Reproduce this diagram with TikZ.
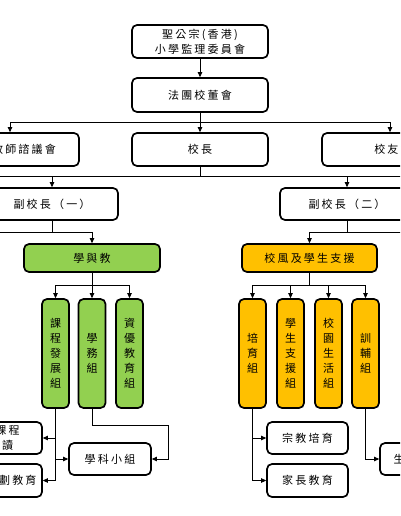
\documentclass[tikz,border=0pt]{standalone}
\usepackage{fontspec}
\setmainfont{Noto Sans CJK TC}[LetterSpace=20]
\usetikzlibrary{arrows.meta}
\definecolor{lgreen}{RGB}{146,208,80}
\definecolor{lorange}{RGB}{255,192,0}
\tikzset{
  box/.style={draw=black, line width=1.7pt, rounded corners=5pt, fill=white,
    inner sep=0pt, align=center, font=\fontsize{11}{15}\selectfont},
  gbox/.style={box, fill=lgreen},
  obox/.style={box, fill=lorange},
  tallbox/.style={minimum width=27pt, minimum height=109pt},
  conn/.style={line width=0.9pt},
  arr/.style={conn, -{Triangle[length=5pt,width=4.5pt]}},
}
\begin{document}
\begin{tikzpicture}[x=1pt,y=-1pt]
\useasboundingbox (0,0) rectangle (400,516);
\clip (0,0) rectangle (400,516);
% top rows
\node[box, minimum width=136pt, minimum height=33pt] (sk) at (200,41.5) {聖公宗(香港)\\小學監理委員會};
\node[box, minimum width=136pt, minimum height=34pt] (ft) at (200,95) {法團校董會};
\node[box, minimum width=110pt, minimum height=33pt] (tc) at (24,149.5) {教師諮議會};
\node[box, minimum width=136pt, minimum height=33pt] (zx) at (200,149.5) {校長};
\node[box, minimum width=142pt, minimum height=33pt] (xy) at (393,149.5) {校友會};
\node[box, minimum width=132pt, minimum height=32pt] (fx1) at (52,204) {副校長（一）};
\node[box, minimum width=134pt, minimum height=32pt] (fx2) at (347,204) {副校長（二）};
\node[gbox, minimum width=136pt, minimum height=28pt] (xyj) at (92,258) {學與教};
\node[obox, minimum width=135pt, minimum height=28pt] (xf) at (309.5,258) {校風及學生支援};
% tall boxes
\node[gbox, tallbox] (kc) at (55.5,353.5) {課\\程\\發\\展\\組};
\node[gbox, tallbox] (xw) at (92,353.5) {學\\務\\組};
\node[gbox, tallbox] (zy) at (129.5,353.5) {資\\優\\教\\育\\組};
\node[obox, tallbox] (py) at (252.5,353.5) {培\\育\\組};
\node[obox, tallbox] (xs) at (290.5,353.5) {學\\生\\支\\援\\組};
\node[obox, tallbox] (xyh) at (328.5,353.5) {校\\園\\生\\活\\組};
\node[obox, tallbox] (xfu) at (365.5,353.5) {訓\\輔\\組};
% bottom boxes
\node[box, minimum width=82pt, minimum height=32pt] (xk) at (110,459) {學科小組};
\node[box, minimum width=82pt, minimum height=32pt] (la) at (1,438) {跨課程\\閱讀};
\node[box, minimum width=88pt, minimum height=33pt] (lb) at (-2,480.5) {生涯規劃教育};
\node[box, minimum width=81pt, minimum height=32pt] (zj) at (307.5,438) {宗教培育};
\node[box, minimum width=81pt, minimum height=33pt] (jz) at (307.5,480.5) {家長教育};
\node[box, minimum width=78pt, minimum height=32pt] (sm) at (419,459) {生命教育};
% connectors
\draw[arr] (sk) -- (ft);
\coordinate (b1) at (200,122);
\coordinate (b1L) at (10,122);
\coordinate (b1R) at (390,122);
\draw[conn] (ft.south) -- (b1);
\draw[conn] (b1L) -- (b1R);
\draw[arr] (b1L) -- (b1L |- tc.north);
\draw[arr] (b1) -- (zx.north);
\draw[arr] (b1R) -- (b1R |- xy.north);
\coordinate (b2) at (200,176);
\coordinate (b2L) at (-20,176);
\coordinate (b2R) at (420,176);
\draw[conn] (zx.south) -- (b2);
\draw[conn] (b2L) -- (b2R);
\draw[arr] (fx1.north |- b2) -- (fx1.north);
\draw[arr] (fx2.north |- b2) -- (fx2.north);
\coordinate (b3) at (52,232);
\coordinate (b3L) at (-20,232);
\draw[conn] (fx1.south) -- (b3);
\draw[arr] (b3L) -| (xyj.north);
\coordinate (b4) at (347,232);
\coordinate (b4R) at (420,232);
\draw[conn] (fx2.south) -- (b4);
\draw[arr] (b4R) -| (xf.north);
\coordinate (b5) at (92,285);
\draw[conn] (xyj.south) -- (b5);
\draw[arr] (b5) -| (kc.north);
\draw[arr] (b5) -- (xw.north);
\draw[arr] (b5) -| (zy.north);
\coordinate (b6) at (309.5,285);
\draw[conn] (xf.south) -- (b6);
\draw[arr] (b6) -| (py.north);
\draw[arr] (b6) -| (xs.north);
\draw[arr] (b6) -| (xyh.north);
\draw[arr] (b6) -| (xfu.north);
% lower left
\draw[conn] (kc.south) -- (kc.south |- lb.east);
\draw[arr] (kc.south |- la.east) -- (la.east);
\draw[arr] (kc.south |- lb.east) -- (lb.east);
\draw[arr] (kc.south |- xk.west) -- (xk.west);
\coordinate (xwturn) at (168,425);
\draw[arr] (xw.south) |- (xwturn) |- (xk.east);
% lower right
\draw[arr] (py.south) |- (jz.west);
\draw[arr] (py.south |- zj.west) -- (zj.west);
\draw[arr] (xfu.south) |- (sm.west);
\end{tikzpicture}
\end{document}
